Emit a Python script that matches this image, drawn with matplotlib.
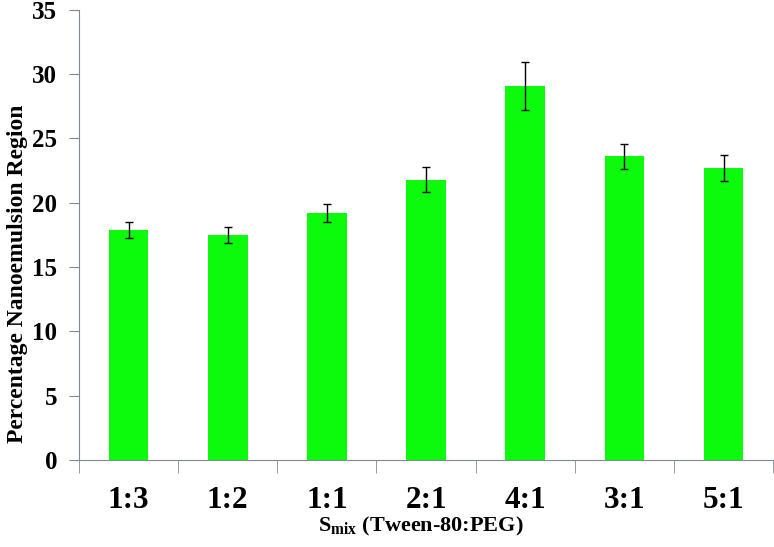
import matplotlib.pyplot as plt
import numpy as np

ratios = ['1:3', '1:2', '1:1', '2:1', '4:1', '3:1', '5:1']
percent_region = [17.9, 17.5, 19.2, 21.8, 29.1, 23.6, 22.7]
errors = [0.6, 0.6, 0.7, 1.0, 1.85, 1.0, 1.0]

plt.rcParams['font.family'] = ['Liberation Serif', 'DejaVu Serif']
plt.rcParams['font.weight'] = 'bold'
plt.rcParams['mathtext.fontset'] = 'custom'
plt.rcParams['mathtext.rm'] = 'Liberation Serif:bold'
plt.rcParams['mathtext.bf'] = 'Liberation Serif:bold'

fig = plt.figure(figsize=(7.74, 5.47), dpi=100)
ax = fig.add_axes([0.102, 0.159, 0.897, 0.823])

x = np.arange(len(ratios))
ax.bar(x, percent_region, width=0.4, color='#0cfa0c', zorder=2)
ax.errorbar(x, percent_region, yerr=errors, fmt='none', ecolor='black',
            elinewidth=1, capsize=3, capthick=1, zorder=3)

ax.set_xlim(-0.5, len(ratios) - 0.5)
ax.set_ylim(0, 35)
ax.set_yticks(range(0, 36, 5))

ax.set_xticks(x)
ax.set_xticklabels(ratios, fontsize=22.5, fontweight='bold')
ax.tick_params(axis='x', which='major', length=0, pad=19)
ax.set_xticks(np.arange(-0.5, len(ratios)), minor=True)
ax.tick_params(axis='x', which='minor', length=9, color='#7f8a90', direction='out')
ax.tick_params(axis='y', length=7, color='#7f8a90', labelsize=18, pad=8.5)
for lbl in ax.get_yticklabels():
    lbl.set_fontweight('bold')

for side in ['top', 'right']:
    ax.spines[side].set_visible(False)
for side in ['left', 'bottom']:
    ax.spines[side].set_color('#7f8a90')

ax.set_ylabel('Percentage Nanoemulsion Region', fontsize=17, fontweight='bold')
ax.yaxis.set_label_coords(-0.074, 0.413)
ax.set_xlabel(r'S$_{\rm mix}$ (Tween-80:PEG)', fontsize=16, fontweight='bold')
ax.xaxis.set_label_coords(0.492, -0.123)

fig.savefig('out.png', dpi=100)
